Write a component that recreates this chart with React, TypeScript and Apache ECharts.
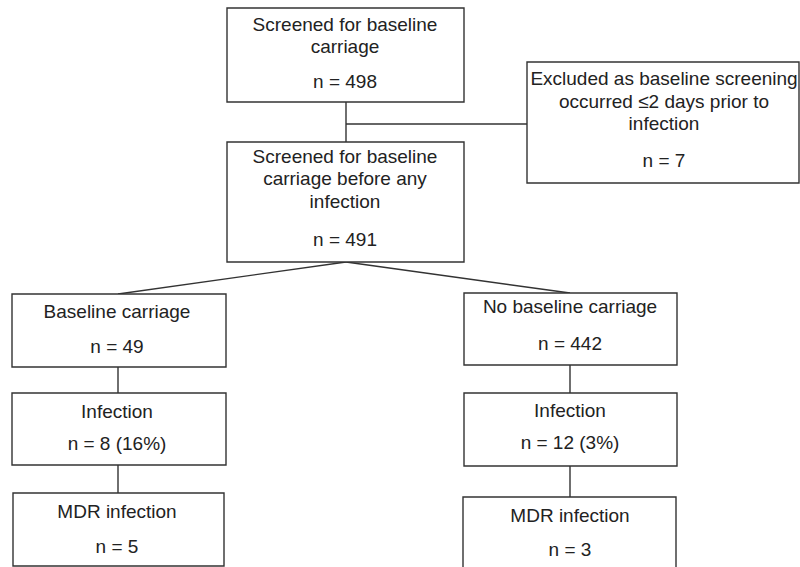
import React, { useEffect, useRef } from "react";
import * as echarts from "echarts";

// ---- Data (flowchart content) ----
const nodeIds = ["screened", "before", "excluded", "carriage", "infCarriage", "mdrCarriage", "noCarriage", "infNo", "mdrNo"];
const nodeTitles: string[][] = [
  ["Screened for baseline", "carriage"],
  ["Screened for baseline", "carriage before any", "infection"],
  ["Excluded as baseline screening", "occurred \u22642 days prior to", "infection"],
  ["Baseline carriage"],
  ["Infection"],
  ["MDR infection"],
  ["No baseline carriage"],
  ["Infection"],
  ["MDR infection"],
];
const nodeCounts: number[] = [498, 491, 7, 49, 8, 5, 442, 12, 3];
const nodePercents: (string | null)[] = [null, null, null, null, "16%", null, null, "3%", null];
const edges: [string, string][] = [
  ["screened", "before"],
  ["before", "carriage"],
  ["before", "noCarriage"],
  ["carriage", "infCarriage"],
  ["infCarriage", "mdrCarriage"],
  ["noCarriage", "infNo"],
  ["infNo", "mdrNo"],
];
const sideEdge: [string, string] = ["screened", "excluded"];

// ---- Layout (positions / sizes) ----
type Box = { x: number; y: number; w: number; h: number; cx: number; lines: number[]; countY: number };
const layout: Record<string, Box> = {
  screened: { x: 227, y: 8, w: 237, h: 94, cx: 345, lines: [31, 53], countY: 88 },
  before: { x: 227, y: 142, w: 237, h: 120, cx: 345, lines: [163, 185, 208], countY: 246 },
  excluded: { x: 527, y: 62, w: 272, h: 121, cx: 664, lines: [85, 108, 130], countY: 167 },
  carriage: { x: 12, y: 294, w: 214, h: 73, cx: 117, lines: [318], countY: 353 },
  infCarriage: { x: 12, y: 393, w: 214, h: 72, cx: 117, lines: [418], countY: 450 },
  mdrCarriage: { x: 13, y: 493, w: 211, h: 73, cx: 117, lines: [518], countY: 553 },
  noCarriage: { x: 464, y: 293, w: 213, h: 72, cx: 570, lines: [313], countY: 350 },
  infNo: { x: 464, y: 393, w: 213, h: 73, cx: 570, lines: [417], countY: 449 },
  mdrNo: { x: 463, y: 497, w: 213, h: 80, cx: 570, lines: [522], countY: 556 },
};
const anchorX: Record<string, number> = {
  screened: 346,
  before: 346,
  carriage: 118,
  infCarriage: 118,
  mdrCarriage: 118,
  noCarriage: 570,
  infNo: 570,
  mdrNo: 570,
};

const FONT = 19;
const BASE_OFF = 6.8; // baseline offset from middle
const TEXT_COLOR = "#222";
const LINE_COLOR = "#333";
const FAMILY = "'Liberation Sans', Arial, Helvetica, sans-serif";

export default function App() {
  const ref = useRef<HTMLDivElement>(null);
  useEffect(() => {
    if (!ref.current) return;
    const chart = echarts.init(ref.current, undefined, { renderer: "svg" });
    const elements: any[] = [];
    const lineStyle = { stroke: LINE_COLOR, lineWidth: 1.4, fill: "none" };

    // edges
    edges.forEach(([a, b]) => {
      const A = layout[a];
      const B = layout[b];
      elements.push({
        type: "line",
        shape: { x1: anchorX[a], y1: A.y + A.h, x2: anchorX[b], y2: B.y },
        style: lineStyle,
        silent: true,
      });
    });
    // side edge: vertical split point to excluded box
    {
      const A = layout[sideEdge[0]];
      const E = layout[sideEdge[1]];
      const yMid = 124;
      elements.push({
        type: "line",
        shape: { x1: anchorX[sideEdge[0]], y1: yMid, x2: E.x, y2: yMid },
        style: lineStyle,
        silent: true,
      });
      void A;
    }

    nodeIds.forEach((id, i) => {
      const b = layout[id];
      elements.push({
        type: "rect",
        shape: { x: b.x, y: b.y, width: b.w, height: b.h },
        style: { stroke: LINE_COLOR, lineWidth: 1.4, fill: "#fff" },
        silent: true,
      });
      nodeTitles[i].forEach((t, k) => {
        elements.push({
          type: "text",
          x: b.cx,
          y: b.lines[k] - BASE_OFF,
          style: {
            text: t,
            fill: TEXT_COLOR,
            font: `${FONT}px ${FAMILY}`,
            align: "center",
            verticalAlign: "middle",
          },
          silent: true,
        });
      });
      const pct = nodePercents[i];
      elements.push({
        type: "text",
        x: b.cx,
        y: b.countY - BASE_OFF,
        style: {
          text: `n = ${nodeCounts[i]}` + (pct ? ` (${pct})` : ""),
          fill: TEXT_COLOR,
          font: `${FONT}px ${FAMILY}`,
          align: "center",
          verticalAlign: "middle",
        },
        silent: true,
      });
    });

    chart.setOption({
      animation: false,
      backgroundColor: "#fff",
      graphic: { elements },
    });
    return () => chart.dispose();
  }, []);
  return (
    <div
      ref={ref}
      style={{ position: "fixed", left: 0, top: 0, width: 800, height: 567 }}
    />
  );
}
